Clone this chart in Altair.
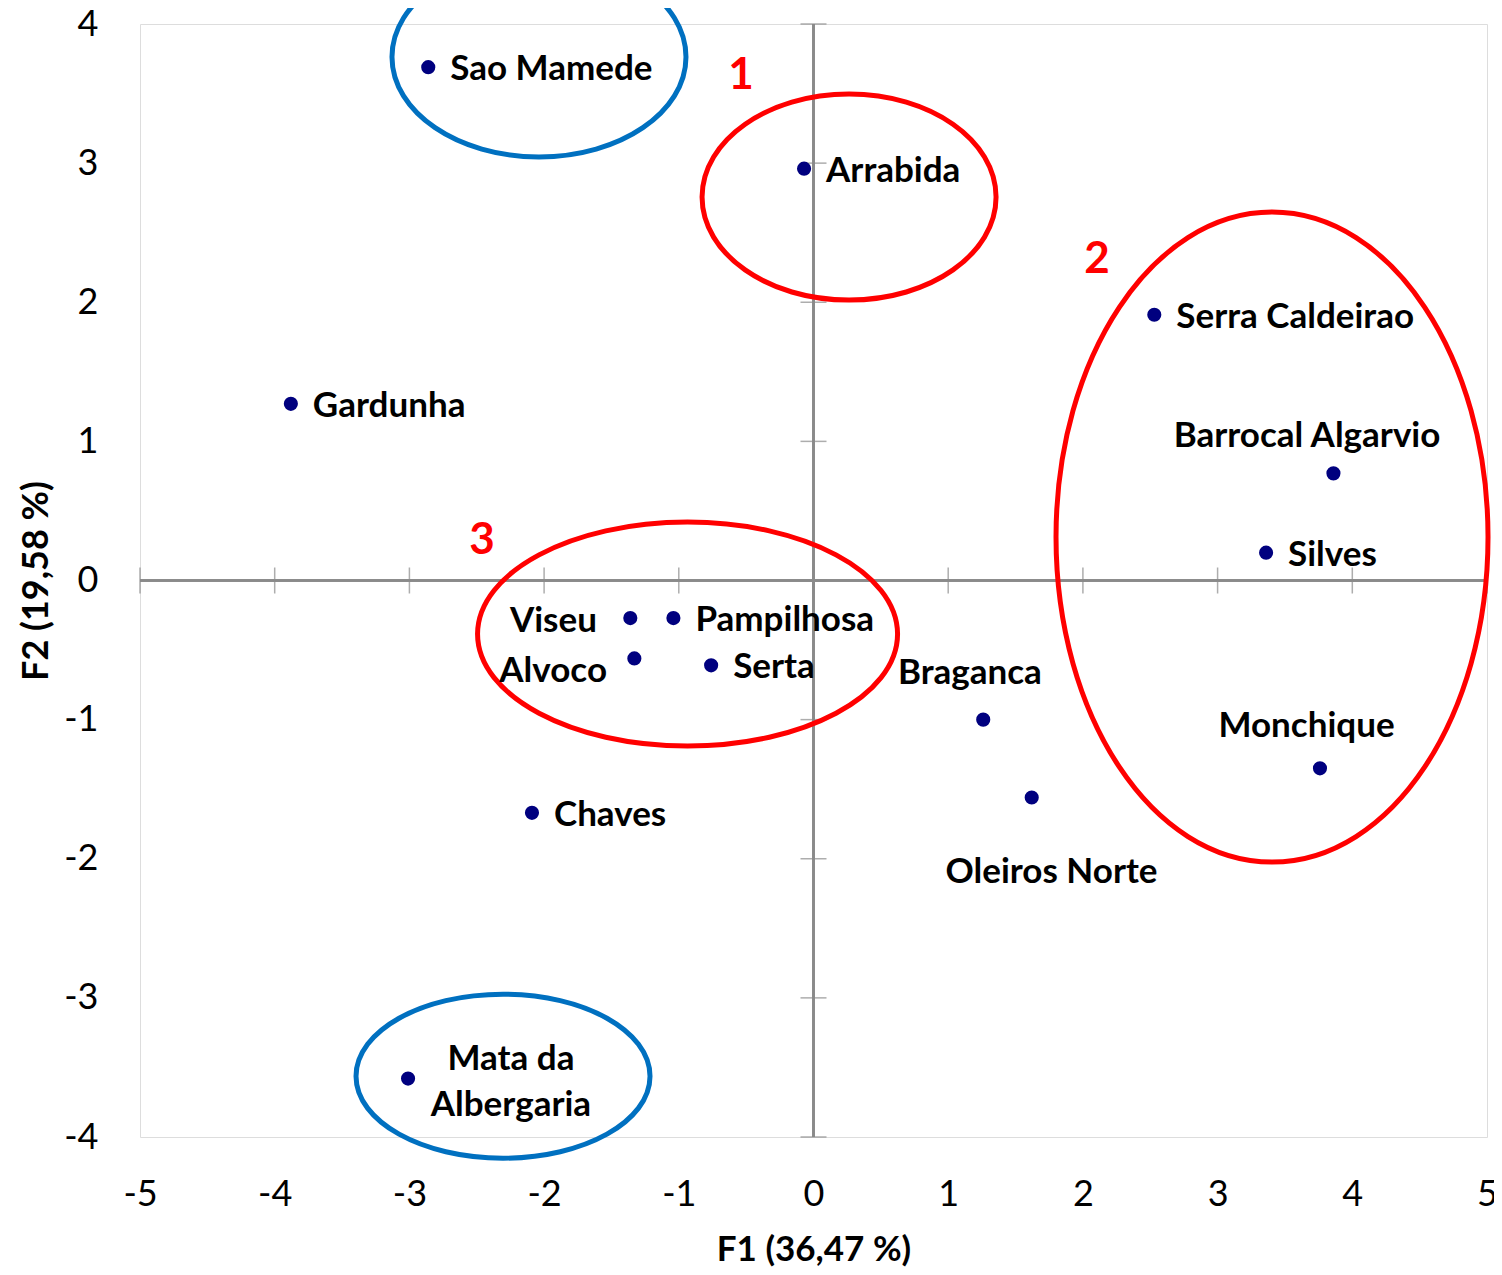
import altair as alt
import pandas as pd

# ---- data ----
sites = ["Sao Mamede", "Arrabida", "Serra Caldeirao", "Barrocal Algarvio", "Silves",
         "Monchique", "Braganca", "Oleiros Norte", "Gardunha", "Viseu", "Pampilhosa",
         "Alvoco", "Serta", "Chaves", "Mata da Albergaria"]
f1 = [-2.86, -0.07, 2.53, 3.86, 3.36, 3.76, 1.26, 1.62, -3.88, -1.36, -1.04, -1.33, -0.76, -2.09, -3.01]
f2 = [3.69, 2.96, 1.91, 0.77, 0.20, -1.35, -1.00, -1.56, 1.27, -0.27, -0.27, -0.56, -0.61, -1.67, -3.58]

# label anchors (data units) and alignment
label_text = ["Sao Mamede", "Arrabida", "Serra Caldeirao", "Barrocal Algarvio", "Silves",
              "Monchique", "Braganca", "Oleiros Norte", "Gardunha", "Viseu", "Pampilhosa",
              "Alvoco", "Serta", "Chaves", "Mata da\nAlbergaria"]
label_x = [-2.86, -0.07, 2.53, 3.664, 3.36, 3.66, 1.161, 1.767, -3.88, -1.608, -1.04, -1.533, -0.76, -2.09, -2.246]
label_y = [3.69, 2.96, 1.91, 1.053, 0.20, -1.032, -0.651, -2.082, 1.27, -0.278, -0.27, -0.637, -0.61, -1.67, -3.426]
label_anchor = ["left", "left", "left", "center", "left", "center", "center", "center", "left",
                "right", "left", "right", "left", "left", "center"]

x_ticks = [-5, -4, -3, -2, -1, 0, 1, 2, 3, 4, 5]
y_ticks = [-4, -3, -2, -1, 0, 1, 2, 3, 4]

group_tags = ["1", "2", "3"]
group_x = [-0.538, 2.105, -2.461]
group_y = [3.641, 2.318, 0.298]

ellipse_x = [-2.038, 0.264, 3.404, -0.935, -2.305]
ellipse_y = [3.763, 2.756, 0.312, -0.385, -3.563]
ellipse_rx = [147, 147, 216, 210, 147]
ellipse_ry = [100, 103, 325, 112, 82]
ellipse_color = ["#0070C0", "#FF0000", "#FF0000", "#FF0000", "#0070C0"]

FONT = "Lato"
GRAY = "#8a8a8a"

pts = pd.DataFrame({"site": sites, "x": f1, "y": f2})
labels = pd.DataFrame({"label": label_text, "x": label_x, "y": label_y, "anchor": label_anchor})
xt = pd.DataFrame({"x": x_ticks, "y": [0] * len(x_ticks)})
yt = pd.DataFrame({"x": [0] * len(y_ticks), "y": y_ticks})
tags = pd.DataFrame({"tag": group_tags, "x": group_x, "y": group_y})

xscale = alt.Scale(domain=[-5, 5], nice=False, zero=False)
yscale = alt.Scale(domain=[-4, 4], nice=False, zero=False)

xaxis = alt.Axis(values=x_ticks, title="F1 (36,47 %)", grid=False, domain=False, ticks=False,
                 tickSize=0, labelPadding=40, labelFlush=False, labelOverlap=False,
                 labelExpr="'' + datum.value",
                 labelFont=FONT, labelFontSize=36, labelColor="black",
                 titleFont=FONT, titleFontSize=35, titleFontWeight="bold", titleColor="black",
                 titleBaseline="alphabetic", titleY=123)
yaxis = alt.Axis(values=y_ticks, title="F2 (19,58 %)", grid=False, domain=False, ticks=False,
                 tickSize=0, labelPadding=42, labelFlush=False, labelOverlap=False,
                 labelExpr="'' + datum.value",
                 labelFont=FONT, labelFontSize=36, labelColor="black",
                 titleFont=FONT, titleFontSize=36, titleFontWeight="bold", titleColor="black",
                 titleBaseline="middle", titleX=-104, titleAngle=270)

X = alt.X("x:Q", scale=xscale, axis=xaxis)
Y = alt.Y("y:Q", scale=yscale, axis=yaxis)

base_pts = alt.Chart(pts)

zero_v = base_pts.mark_rule(color=GRAY, strokeWidth=1.5).encode(x=alt.datum(0))
zero_h = base_pts.mark_rule(color=GRAY, strokeWidth=1.5).encode(y=alt.datum(0))

xtick_layer = alt.Chart(xt).mark_tick(orient="vertical", size=26, thickness=1.5, color=GRAY).encode(x=X, y=Y)
ytick_layer = alt.Chart(yt).mark_tick(orient="horizontal", size=26, thickness=1.5, color=GRAY).encode(x=X, y=Y)


def ellipse_path(b):
    k = 0.5523
    return (f"M -1 0 C -1 {-b*k:.4f} {-k} {-b:.4f} 0 {-b:.4f} "
            f"C {k} {-b:.4f} 1 {-b*k:.4f} 1 0 "
            f"C 1 {b*k:.4f} {k} {b:.4f} 0 {b:.4f} "
            f"C {-k} {b:.4f} -1 {b*k:.4f} -1 0 Z")


ellipse_layers = []
for ex, ey, rx, ry, col in zip(ellipse_x, ellipse_y, ellipse_rx, ellipse_ry, ellipse_color):
    edf = pd.DataFrame({"x": [ex], "y": [ey]})
    ellipse_layers.append(
        alt.Chart(edf).mark_point(shape=ellipse_path(ry / rx), size=(2 * rx) ** 2, filled=False,
                                  stroke=col, strokeWidth=5, opacity=1).encode(x=X, y=Y)
    )

points = base_pts.mark_circle(size=200, color="#00007F", opacity=1).encode(x=X, y=Y)

text_layers = []
for anchor, dx in [("left", 22), ("center", 0), ("right", 0)]:
    text_layers.append(
        alt.Chart(labels).transform_filter(alt.datum.anchor == anchor).mark_text(
            align=anchor, baseline="middle", dx=dx, dy=2, font=FONT, fontSize=35,
            fontWeight="bold", color="black", lineBreak="\n", lineHeight=46
        ).encode(x=X, y=Y, text="label:N")
    )

tag_layer = alt.Chart(tags).mark_text(
    align="center", baseline="middle", font=FONT, fontSize=44, fontWeight="bold", color="#FF0000", dy=2
).encode(x=X, y=Y, text="tag:N")

chart = alt.layer(
    zero_v, zero_h, xtick_layer, ytick_layer, *ellipse_layers, points, *text_layers, tag_layer
).properties(
    width=1347, height=1113,
    padding={"left": 132, "top": 16, "right": 7, "bottom": 130},
    autosize=alt.AutoSizeParams(type="none"),
).configure_view(stroke=GRAY, strokeWidth=2).configure(background="white")

chart.save("out.html", embed_options={"renderer": "svg", "actions": False})
